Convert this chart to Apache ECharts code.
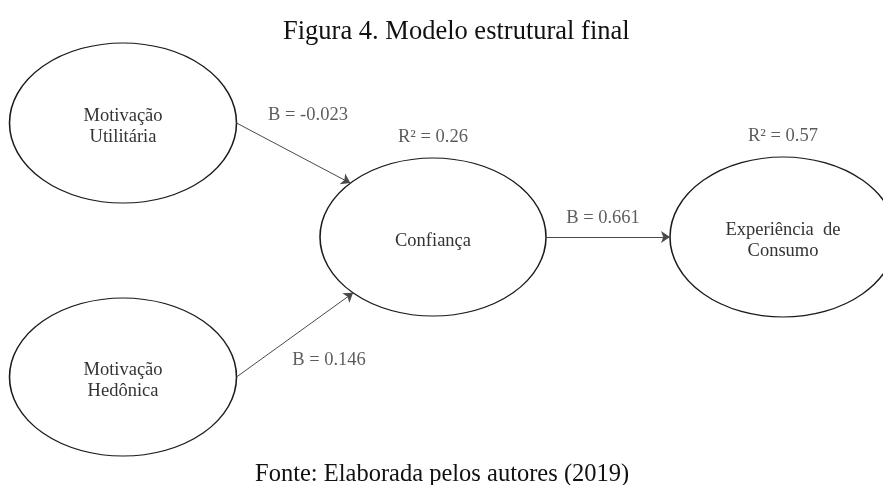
<!DOCTYPE html>
<html>
<head>
<meta charset="utf-8">
<script src="https://cdn.jsdelivr.net/npm/echarts@6/dist/echarts.min.js"></script>
<style>
html, body { margin: 0; padding: 0; background: #fff; }
#main { width: 883px; height: 485px; }
</style>
</head>
<body>
<div id="main"></div>
<script>
// constructos do modelo
var constructs = ['Motivação\nUtilitária', 'Motivação\nHedônica', 'Confiança', 'Experiência  de\nConsumo'];
// caminhos estruturais: origem, destino, coeficiente B
var pathFrom = [0, 1, 2];
var pathTo = [2, 2, 3];
var pathB = ['-0.023', '0.146', '0.661'];
// R² dos constructos endógenos
var r2Node = [2, 3];
var r2Values = ['0.26', '0.57'];

// layout do diagrama (pixels da figura)
var nodeX = [123, 123, 433, 783];
var nodeY = [123, 377, 237, 237];
var nodeW = [227, 227, 226, 226];
var nodeH = [160, 158, 158, 160];
var pathEndAngle = [223, 135, 180];
var bLabelX = [308, 329, 603];
var bLabelY = [115, 360, 218];
var r2Gap = 21;

var serif = "'Liberation Serif', 'DejaVu Serif', serif";
var ellipsePath = 'path://M0 50 A50 50 0 1 1 100 50 A50 50 0 1 1 0 50 Z';

/*
* elipses dos constructos
*/
var nodeData = constructs.map(function (name, i) {
    return {
        name: name,
        value: [nodeX[i], nodeY[i]],
        symbolSize: [nodeW[i], nodeH[i]]
    };
});

/*
* setas: do lado direito da origem ate a borda do destino
*/
var arrowData = pathFrom.map(function (from, i) {
    var to = pathTo[i];
    var a = pathEndAngle[i] * Math.PI / 180;
    var start = [nodeX[from] + nodeW[from] / 2, nodeY[from]];
    var end = [nodeX[to] + Math.cos(a) * nodeW[to] / 2, nodeY[to] + Math.sin(a) * nodeH[to] / 2];
    return { coords: [start, end] };
});

var textData = [];
pathB.forEach(function (b, i) {
    textData.push({ name: 'B = ' + b, value: [bLabelX[i], bLabelY[i]] });
});
r2Node.forEach(function (n, i) {
    textData.push({ name: 'R² = ' + r2Values[i], value: [nodeX[n], nodeY[n] - nodeH[n] / 2 - r2Gap] });
});

var option = {
    animation: false,
    title: [
        {
            text: 'Figura 4. Modelo estrutural final',
            left: 278,
            top: 14,
            textStyle: { fontFamily: serif, fontSize: 26.5, fontWeight: 'normal', color: '#111' }
        },
        {
            text: 'Fonte: Elaborada pelos autores (2019)',
            left: 250,
            top: 457,
            textStyle: { fontFamily: serif, fontSize: 24.5, fontWeight: 'normal', color: '#111' }
        }
    ],
    grid: { left: 0, right: 0, top: 0, bottom: 0 },
    xAxis: { type: 'value', min: 0, max: 883, show: false },
    yAxis: { type: 'value', min: 0, max: 485, inverse: true, show: false },
    series: [
        {
            name: 'constructos',
            type: 'scatter',
            symbol: ellipsePath,
            data: nodeData,
            z: 2,
            itemStyle: { color: '#fff', borderColor: '#1a1a1a', borderWidth: 1.3, opacity: 1 },
            label: {
                show: true,
                position: 'inside',
                offset: [0, 4],
                formatter: '{b}',
                fontFamily: serif,
                fontSize: 18.5,
                lineHeight: 21,
                color: '#333'
            },
            emphasis: { disabled: true }
        },
        {
            name: 'caminhos',
            type: 'lines',
            coordinateSystem: 'cartesian2d',
            data: arrowData,
            z: 3,
            symbol: ['none', 'arrow'],
            symbolSize: 9,
            lineStyle: { color: '#4a4a4a', width: 1, opacity: 1 }
        },
        {
            name: 'textos',
            type: 'scatter',
            symbolSize: 0,
            data: textData,
            z: 4,
            label: {
                show: true,
                position: 'inside',
                formatter: '{b}',
                fontFamily: serif,
                fontSize: 18.5,
                color: '#333'
            },
            emphasis: { disabled: true }
        }
    ]
};

var chart = echarts.init(document.getElementById('main'));
chart.setOption(option);
</script>
</body>
</html>
